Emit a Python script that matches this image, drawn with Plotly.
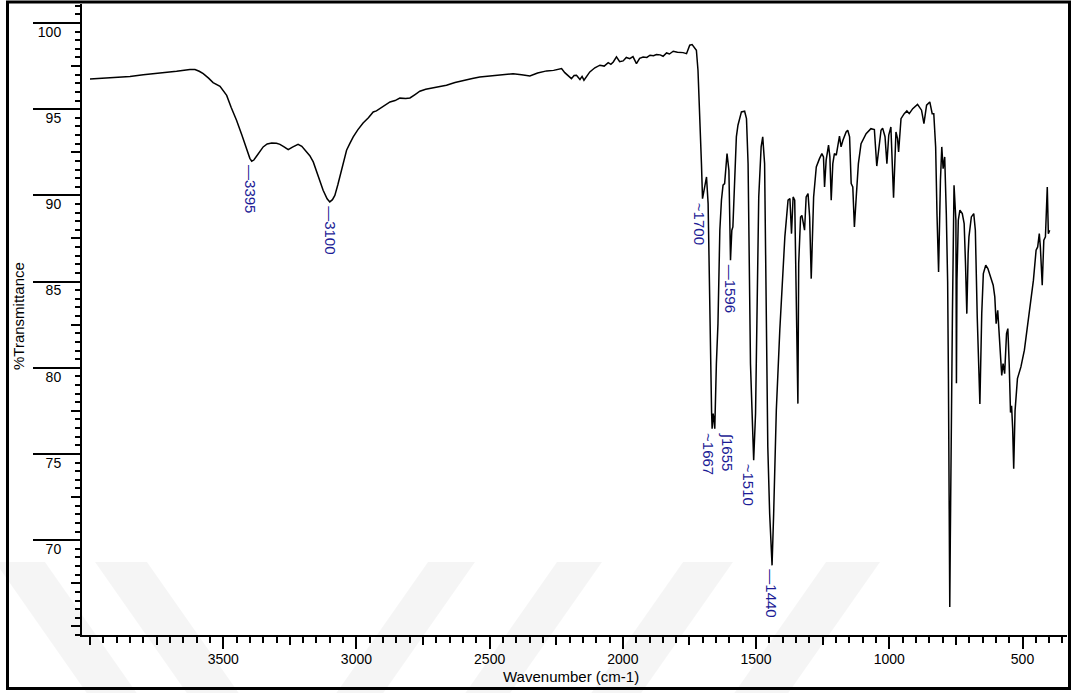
import plotly.graph_objects as go

# ---------------- data ----------------
wavenumber = [
    4000, 3950, 3900, 3850, 3800, 3725, 3675, 3625, 3606, 3590, 3575, 3555, 3538, 3512, 3500,
    3487, 3470, 3450, 3430, 3412, 3400, 3393, 3385, 3375, 3360, 3350, 3335, 3318, 3300, 3287,
    3270, 3256, 3240, 3225, 3219, 3205, 3187, 3175, 3162, 3147, 3135, 3125, 3110, 3100, 3090,
    3081, 3070, 3062, 3050, 3037, 3025, 3012, 2995, 2975, 2955, 2937, 2925, 2912, 2895, 2874,
    2855, 2837, 2815, 2799, 2780, 2762, 2740, 2712, 2690, 2662, 2630, 2597, 2565, 2537, 2505,
    2474, 2440, 2412, 2380, 2349, 2320, 2286, 2260, 2245, 2230, 2218, 2205, 2193, 2183, 2174,
    2161, 2153, 2146, 2135, 2124, 2105, 2086, 2070, 2055, 2045, 2036, 2024, 2012, 1999, 1987,
    1974, 1962, 1949, 1937, 1924, 1910, 1898, 1885, 1874, 1860, 1849, 1836, 1825, 1811, 1795,
    1774, 1761, 1749, 1740, 1733, 1724, 1718, 1711, 1705, 1701, 1692, 1686, 1680, 1674, 1670,
    1667, 1665, 1661, 1658, 1655, 1649, 1643, 1636, 1630, 1624, 1618, 1609, 1602, 1596, 1591,
    1587, 1581, 1574, 1568, 1555, 1543, 1536, 1530, 1524, 1521, 1514, 1509, 1502, 1497, 1490,
    1481, 1475, 1468, 1462, 1460, 1456, 1449, 1440, 1434, 1424, 1411, 1401, 1392, 1380, 1373,
    1367, 1361, 1355, 1349, 1343, 1340, 1333, 1328, 1323, 1318, 1312, 1305, 1299, 1293, 1284,
    1274, 1262, 1253, 1247, 1243, 1237, 1228, 1223, 1218, 1212, 1206, 1199, 1193, 1187, 1181,
    1174, 1162, 1156, 1149, 1143, 1137, 1131, 1124, 1116, 1106, 1087, 1069, 1056, 1047, 1041,
    1031, 1025, 1016, 1009, 1002, 994, 984, 975, 969, 965, 956, 944, 934, 925, 912,
    894, 879, 870, 860, 848, 839, 833, 826, 821, 815, 808, 803, 798, 792, 786,
    781, 778, 775, 773, 771, 768, 763, 757, 750, 748, 746, 741, 735, 726, 719,
    714, 709, 704, 701, 692, 683, 677, 670, 660, 653, 647, 638, 630, 620, 610,
    604, 599, 593, 587, 580, 578, 573, 567, 560, 555, 550, 545, 541, 537, 533,
    528, 519, 506, 493, 481, 468, 459, 449, 443, 437, 433, 426, 420, 414, 407,
    403, 398,
]
transmittance = [
    96.75, 96.80, 96.85, 96.90, 97.00, 97.10, 97.20, 97.30, 97.30, 97.20, 97.06, 96.80, 96.54, 96.33, 96.10,
    95.80, 95.10, 94.36, 93.50, 92.62, 92.15, 91.98, 92.05, 92.27, 92.60, 92.81, 92.98, 93.04, 93.02, 92.96,
    92.80, 92.65, 92.80, 92.95, 92.96, 92.85, 92.52, 92.30, 91.94, 91.30, 90.80, 90.30, 89.80, 89.62, 89.75,
    90.00, 90.60, 91.07, 91.90, 92.62, 93.00, 93.39, 93.80, 94.20, 94.50, 94.84, 94.90, 95.03, 95.20, 95.42,
    95.50, 95.64, 95.62, 95.65, 95.85, 96.04, 96.15, 96.25, 96.30, 96.39, 96.55, 96.68, 96.78, 96.87, 96.92,
    96.97, 97.00, 97.06, 97.00, 96.93, 97.10, 97.22, 97.25, 97.30, 97.36, 97.12, 96.95, 96.77, 96.95, 96.97,
    96.72, 96.90, 96.68, 96.95, 97.16, 97.40, 97.55, 97.50, 97.70, 97.60, 97.74, 98.03, 97.75, 97.80, 98.00,
    97.93, 98.05, 97.64, 97.95, 98.03, 98.00, 98.13, 98.10, 98.17, 98.15, 98.07, 98.26, 98.20, 98.36, 98.30,
    98.28, 98.22, 98.71, 98.75, 98.61, 98.42, 97.26, 94.74, 91.84, 89.81, 90.68, 91.07, 89.52, 82.56, 79.50,
    77.44, 76.47, 77.34, 77.00, 76.47, 80.24, 82.56, 87.98, 89.72, 90.59, 90.68, 92.42, 91.46, 86.24, 87.98,
    88.17, 91.07, 93.39, 94.07, 94.84, 94.88, 94.45, 91.84, 82.18, 80.24, 76.95, 74.64, 77.34, 82.18, 89.91,
    92.81, 93.39, 91.84, 82.18, 80.24, 75.42, 71.54, 68.54, 71.54, 77.54, 82.18, 85.08, 87.59, 89.72, 89.81,
    87.78, 89.91, 89.72, 82.18, 77.92, 86.05, 88.75, 88.84, 88.36, 87.98, 89.91, 90.10, 88.75, 85.17, 89.91,
    91.65, 92.13, 92.42, 92.23, 90.49, 92.04, 92.91, 92.23, 89.72, 91.84, 92.42, 92.33, 93.00, 93.43, 92.81,
    93.20, 93.68, 93.78, 93.39, 90.68, 90.49, 88.17, 89.91, 91.84, 93.00, 93.58, 93.87, 93.82, 91.70, 92.38,
    93.78, 93.90, 93.40, 91.84, 93.50, 93.97, 89.86, 93.68, 93.29, 92.52, 94.45, 94.74, 94.90, 94.74, 95.03,
    95.28, 94.94, 94.16, 95.23, 95.42, 94.74, 94.74, 92.81, 88.94, 85.56, 90.88, 92.81, 91.55, 92.23, 88.94,
    85.00, 79.28, 70.50, 66.13, 70.00, 77.00, 83.14, 90.59, 88.56, 79.10, 85.08, 88.56, 89.14, 88.94, 88.36,
    86.05, 83.14, 86.63, 87.59, 88.75, 88.94, 87.98, 83.00, 77.90, 83.14, 85.46, 85.95, 85.75, 85.27, 84.79,
    84.11, 82.56, 83.33, 81.98, 80.43, 79.56, 80.24, 79.66, 81.98, 82.27, 80.24, 77.40, 77.80, 76.50, 74.15,
    77.50, 79.37, 80.05, 81.02, 82.37, 83.92, 85.08, 86.82, 87.01, 87.78, 87.01, 84.79, 87.40, 87.59, 90.49,
    87.78, 87.98,
]

# peak labels: wavenumber, transmittance at peak, text, horizontal offset (px)
peak_wn = [3395, 3100, 1700, 1596, 1667, 1655, 1510, 1440]
peak_t = [91.98, 89.62, 89.81, 86.24, 76.47, 76.47, 74.64, 68.54]
peak_text = ["\u20143395", "\u20143100", "~1700", "\u20141596", "~1667", "\u222b1655", "~1510", "\u20141440"]
peak_dx = [0, 0, -3, 0, -3, 13, -5, 0]

x_range = [4030, 333]
y_range = [64.5, 101.1]
x_labels = [3500, 3000, 2500, 2000, 1500, 1000, 500]
y_labels = [70, 75, 80, 85, 90, 95, 100]
x_mid = 250
x_minor = 50
y_mid = 2.5
y_minor = 0.5

FONT = "Liberation Sans, Arial, sans-serif"
LABEL_BLUE = "#1c1c96"

# ---------------- figure ----------------
fig = go.Figure()
fig.add_trace(go.Scatter(x=wavenumber, y=transmittance, mode="lines",
                         line=dict(color="black", width=1.5), hoverinfo="skip",
                         showlegend=False))
# empty traces so that the overlay tick axes get drawn
fig.add_trace(go.Scatter(x=[], y=[], xaxis="x2", yaxis="y", showlegend=False))
fig.add_trace(go.Scatter(x=[], y=[], xaxis="x", yaxis="y2", showlegend=False))
fig.add_trace(go.Scatter(x=[], y=[], xaxis="x", yaxis="y3", showlegend=False))

L, R, T, B = 82, 11, 4, 58
W, H = 1078, 693
pw, ph = W - L - R, H - T - B

def px_x(px):
    return (px - L) / pw

def px_y(py):
    return (H - B - py) / ph

annotations = []
for wn, t, txt, dx in zip(peak_wn, peak_t, peak_text, peak_dx):
    annotations.append(dict(x=wn, y=t, xref="x", yref="y", text=txt, showarrow=False,
                            textangle=90, xanchor="center", yanchor="top",
                            xshift=dx, yshift=-2,
                            font=dict(family=FONT, size=15, color=LABEL_BLUE)))
annotations.append(dict(x=px_x(571), y=px_y(676), xref="paper", yref="paper",
                        text="Wavenumber (cm-1)", showarrow=False,
                        xanchor="center", yanchor="middle",
                        font=dict(family=FONT, size=15, color="black")))
annotations.append(dict(x=px_x(18), y=px_y(316), xref="paper", yref="paper",
                        text="%Transmittance", showarrow=False, textangle=-90,
                        xanchor="center", yanchor="middle",
                        font=dict(family=FONT, size=15, color="black")))

# faint diagonal watermark bands (background decoration), in pixel space
band_top_y, band_bot_y = 562, 700
bands = [  # (top-left x, top width, horizontal drift per px down)
    (-5, 50, 0.7), (95, 52, 0.7),
    (428, 47, -0.7), (557, 45, -0.7), (683, 50, -0.7), (826, 54, -0.7),
]
shapes = []
for x0, wdt, drift in bands:
    dy = band_bot_y - band_top_y
    pts = [(x0, band_top_y), (x0 + wdt, band_top_y),
           (x0 + wdt + drift * dy, band_bot_y), (x0 + drift * dy, band_bot_y)]
    path = "M " + " L ".join(f"{px_x(a):.4f},{px_y(b):.4f}" for a, b in pts) + " Z"
    shapes.append(dict(type="path", xref="paper", yref="paper", path=path,
                       fillcolor="rgba(0,0,0,0.04)", line=dict(width=0), layer="below"))

shapes.append(dict(type="rect", xref="paper", yref="paper",
                   x0=px_x(7.5), x1=px_x(1069.5), y0=px_y(688.5), y1=px_y(2),
                   line=dict(color="black", width=3), fillcolor="rgba(0,0,0,0)"))

tickfont = dict(family=FONT, size=14, color="black")

fig.update_layout(
    width=W, height=H,
    margin=dict(l=L, r=R, t=T, b=B, autoexpand=False),
    paper_bgcolor="white", plot_bgcolor="rgba(0,0,0,0)",
    showlegend=False,
    annotations=annotations,
    shapes=shapes,
    xaxis=dict(range=x_range, autorange=False, tickmode="array", tickvals=x_labels,
               ticks="outside", ticklen=12, tickwidth=1.5, tickcolor="black",
               showline=True, linewidth=2, linecolor="black", showgrid=False,
               zeroline=False, tickfont=tickfont, ticklabelstandoff=-2,
               minor=dict(dtick=x_minor, tick0=0, ticks="outside", ticklen=6,
                          tickwidth=1.5, tickcolor="black", showgrid=False)),
    xaxis2=dict(range=x_range, autorange=False, dtick=x_mid, tick0=0,
                overlaying="x", anchor="y", side="bottom",
                ticks="outside", ticklen=9, tickwidth=1.5, tickcolor="black",
                showline=False, showgrid=False, zeroline=False, showticklabels=False),
    yaxis=dict(range=y_range, autorange=False, tickmode="array", tickvals=y_labels,
               ticks="outside", ticklen=10, tickwidth=1.5, tickcolor="black",
               showline=True, linewidth=2, linecolor="black", showgrid=False,
               zeroline=False, tickfont=tickfont, ticklabelshift=9,
               ticklabelstandoff=6,
               minor=dict(dtick=y_minor, tick0=0, ticks="outside", ticklen=5,
                          tickwidth=1.5, tickcolor="black", showgrid=False)),
    yaxis2=dict(range=y_range, autorange=False, dtick=y_mid, tick0=0,
                overlaying="y", anchor="x", side="left",
                ticks="outside", ticklen=10, tickwidth=1.5, tickcolor="black",
                showline=False, showgrid=False, zeroline=False, showticklabels=False),
    yaxis3=dict(range=y_range, autorange=False, tickmode="array", tickvals=y_labels,
                overlaying="y", anchor="x", side="left",
                ticks="outside", ticklen=48, tickwidth=2, tickcolor="black",
                showline=False, showgrid=False, zeroline=False, showticklabels=False),
)

fig.write_html("out.html", config={"displayModeBar": False},
               post_script="document.body.style.margin='0px';document.body.style.overflow='hidden';")
